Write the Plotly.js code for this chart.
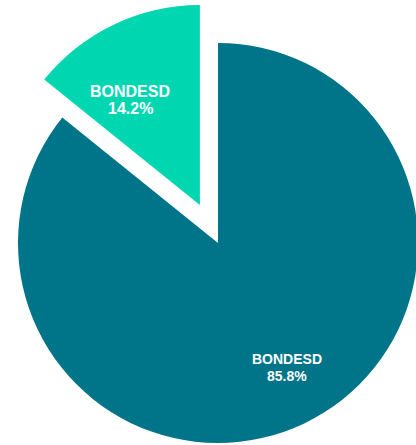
<!DOCTYPE html>
<html>
<head>
<meta charset="utf-8">
<script src="https://cdn.plot.ly/plotly-3.0.1.min.js"></script>
<style>
html, body { margin: 0; padding: 0; width: 416px; height: 445px; overflow: hidden; background: #fff; }
#chart { position: absolute; left: -24px; top: 1px; width: 484px; height: 484px; }
</style>
</head>
<body>
<div id="chart"></div>
<script>
const categories = ['BONDESD', 'BONDESD'];
const shares = [85.8, 14.2];
const colors = ['#00758A', '#00D7B1'];
const pulls = [0, 0.21];

// label placement (paper coords) and font sizes, styling only
const labelPos = [[0.6426, 0.2593, 0.2242], [0.3192, 0.8130, 0.7779]];
const labelSize = [14, 16];

const annotations = [];
categories.forEach((c, i) => {
  const p = labelPos[i];
  const f = { family: 'Liberation Sans, Arial, sans-serif', size: labelSize[i], color: '#ffffff' };
  annotations.push({ xref: 'paper', yref: 'paper', x: p[0], y: p[1], text: '<b>' + c + '</b>',
    showarrow: false, xanchor: 'center', yanchor: 'middle', font: f });
  annotations.push({ xref: 'paper', yref: 'paper', x: p[0], y: p[2], text: '<b>' + shares[i].toFixed(1) + '%</b>',
    showarrow: false, xanchor: 'center', yanchor: 'middle', font: f });
});

Plotly.newPlot('chart', [{
  type: 'pie',
  values: shares,
  text: categories,
  textinfo: 'none',
  textposition: 'none',
  sort: false,
  direction: 'clockwise',
  rotation: 0,
  pull: pulls,
  marker: { colors: colors, line: { width: 0 } },
  hoverinfo: 'skip'
}], {
  width: 484,
  height: 484,
  margin: { l: 0, r: 0, t: 0, b: 0, pad: 0 },
  showlegend: false,
  annotations: annotations,
  paper_bgcolor: 'rgba(0,0,0,0)',
  plot_bgcolor: 'rgba(0,0,0,0)'
}, { staticPlot: true, displayModeBar: false });
</script>
</body>
</html>
